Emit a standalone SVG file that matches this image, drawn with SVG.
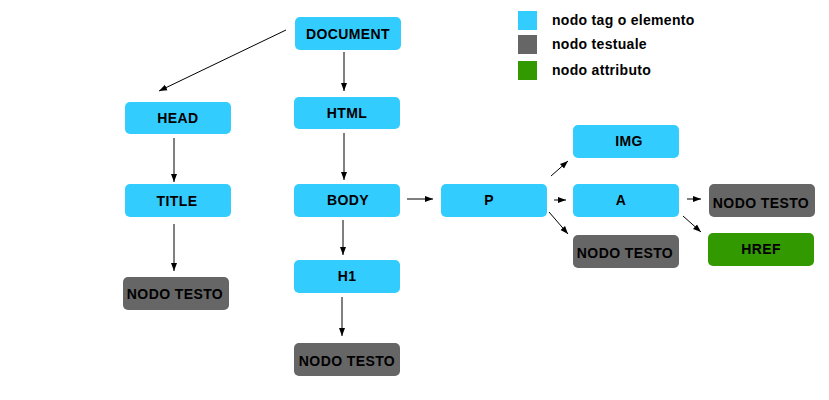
<svg xmlns="http://www.w3.org/2000/svg" width="829" height="400" viewBox="0 0 829 400">
<style>
.t{font-family:"Liberation Sans",Arial,sans-serif;font-weight:bold;font-size:14px;letter-spacing:0.4px;fill:#000;text-anchor:middle}
.lg{font-family:"Liberation Sans",Arial,sans-serif;font-weight:bold;font-size:14px;letter-spacing:0.3px;fill:#000}
.tag{fill:#33CCFF}
.txt{fill:#666666}
.att{fill:#339900}
.c line{stroke:#000;stroke-width:1;marker-end:url(#ah)}
</style>
<defs>
<marker id="ah" markerUnits="userSpaceOnUse" markerWidth="8" markerHeight="8" viewBox="0 0 8 8" refX="8" refY="4" orient="auto">
<path d="M0,1 L8,4 L0,7 Z" fill="#000"/>
</marker>
</defs>
<rect width="829" height="400" fill="#fff"/>
<g id="legend">
<rect x="518" y="11" width="19" height="19" class="tag"/>
<rect x="518" y="35" width="19" height="19" class="txt"/>
<rect x="518" y="61" width="19" height="19" class="att"/>
<text x="552" y="25" class="lg">nodo tag o elemento</text>
<text x="552" y="49" class="lg">nodo testuale</text>
<text x="552" y="75" class="lg">nodo attributo</text>
</g>
<g class="c" id="connectors">
<line x1="286" y1="30" x2="159" y2="91"/>
<line x1="344" y1="52" x2="344" y2="91"/>
<line x1="344" y1="133" x2="344" y2="180"/>
<line x1="174" y1="138" x2="174" y2="182"/>
<line x1="174" y1="224" x2="174" y2="271"/>
<line x1="343" y1="220" x2="343" y2="255"/>
<line x1="342" y1="297" x2="342" y2="336"/>
<line x1="407" y1="199" x2="433" y2="199"/>
<line x1="551" y1="176" x2="568" y2="161"/>
<line x1="554" y1="200" x2="566" y2="200"/>
<line x1="549" y1="212" x2="568" y2="234"/>
<line x1="687" y1="199" x2="701" y2="199"/>
<line x1="683" y1="216" x2="701" y2="232"/>
</g>
<g id="n-document"><rect x="295" y="17" width="106" height="33" rx="5" class="tag"/><text x="348" y="39" class="t">DOCUMENT</text></g>
<g id="n-html"><rect x="294" y="97" width="106" height="32" rx="5" class="tag"/><text x="347" y="118" class="t">HTML</text></g>
<g id="n-head"><rect x="125" y="102" width="106" height="32" rx="5" class="tag"/><text x="178" y="123" class="t">HEAD</text></g>
<g id="n-title"><rect x="125" y="184" width="106" height="33" rx="5" class="tag"/><text x="177" y="206" class="t">TITLE</text></g>
<g id="n-body"><rect x="294" y="184" width="106" height="33" rx="5" class="tag"/><text x="348" y="205" class="t">BODY</text></g>
<g id="n-text1"><rect x="123" y="277" width="106" height="33" rx="5" class="txt"/><text x="175" y="299" class="t">NODO TESTO</text></g>
<g id="n-h1"><rect x="294" y="260" width="106" height="33" rx="5" class="tag"/><text x="347" y="281" class="t">H1</text></g>
<g id="n-text2"><rect x="294" y="343" width="106" height="33" rx="5" class="txt"/><text x="347" y="366" class="t">NODO TESTO</text></g>
<g id="n-p"><rect x="441" y="184" width="106" height="33" rx="5" class="tag"/><text x="489" y="205" class="t">P</text></g>
<g id="n-img"><rect x="573" y="125" width="106" height="33" rx="5" class="tag"/><text x="629" y="146" class="t">IMG</text></g>
<g id="n-a"><rect x="573" y="184" width="106" height="33" rx="5" class="tag"/><text x="621" y="205" class="t">A</text></g>
<g id="n-text3"><rect x="573" y="235" width="106" height="33" rx="5" class="txt"/><text x="625" y="258" class="t">NODO TESTO</text></g>
<g id="n-text4"><rect x="709" y="184" width="106" height="33" rx="5" class="txt"/><text x="761" y="208" class="t">NODO TESTO</text></g>
<g id="n-href"><rect x="708" y="233" width="106" height="33" rx="5" class="att"/><text x="761" y="254" class="t">HREF</text></g>
</svg>
